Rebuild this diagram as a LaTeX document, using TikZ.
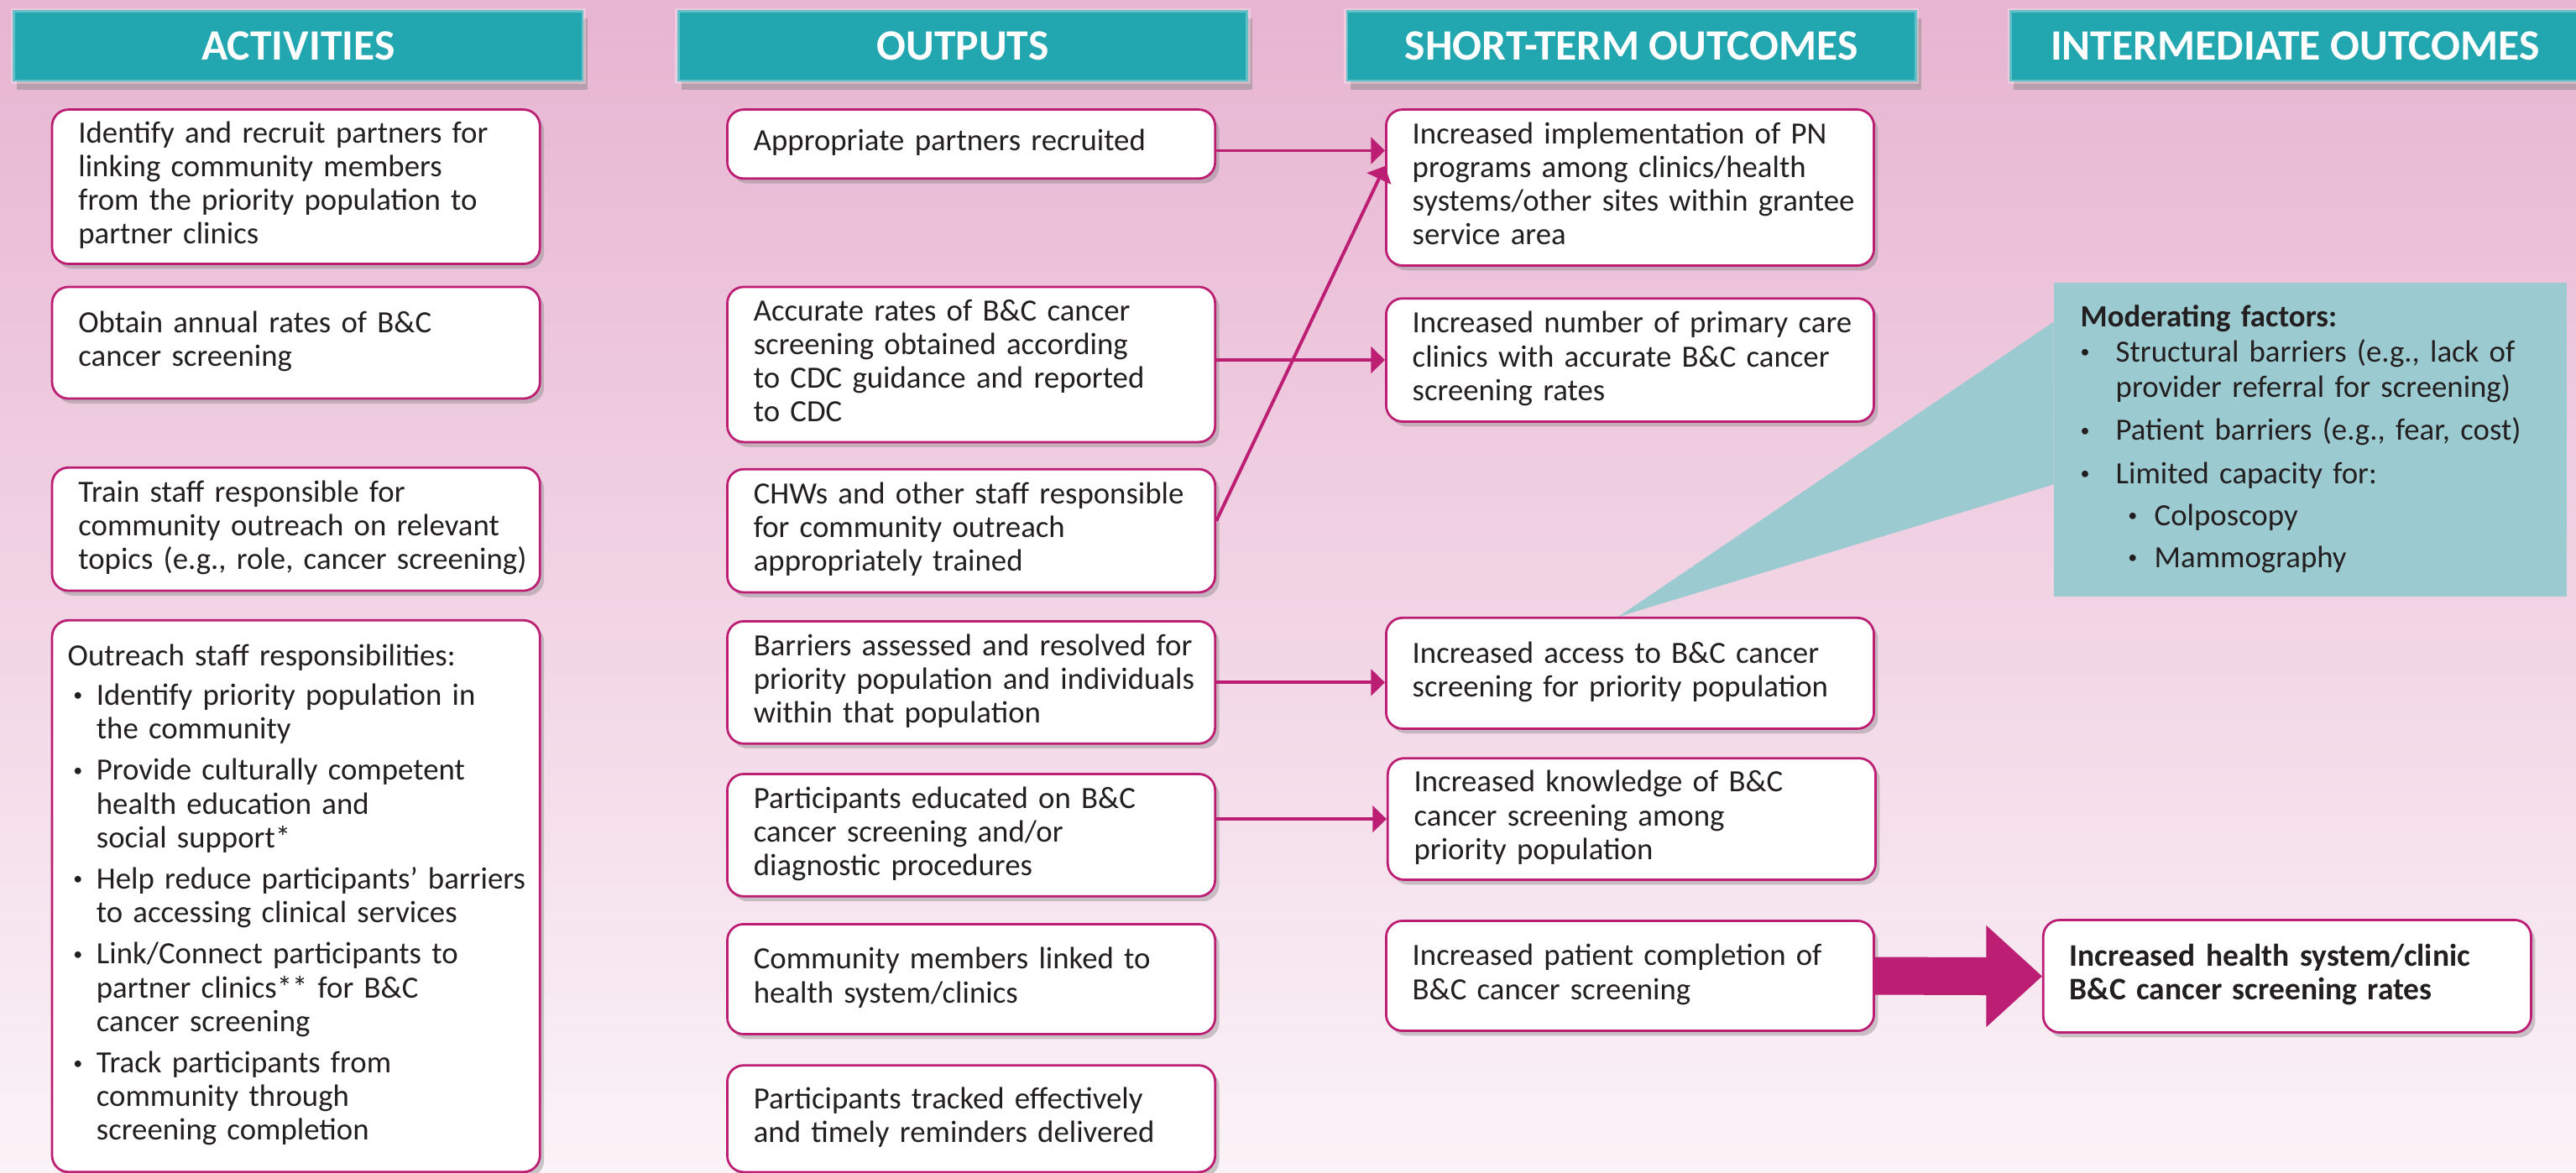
\documentclass[tikz,border=0pt]{standalone}
\usepackage{fontspec}
\setmainfont{Carlito}
\usetikzlibrary{shadows,arrows.meta,calc,backgrounds}

\definecolor{bgtop}{RGB}{231,180,209}
\definecolor{bgbot}{RGB}{251,243,247}
\definecolor{hdteal}{RGB}{34,166,175}
\definecolor{mag}{RGB}{188,30,116}
\definecolor{mfteal}{RGB}{155,203,209}
\definecolor{ink}{RGB}{35,31,32}

\newcommand\lines[1]{\begin{tabular}{@{}l@{}}#1\end{tabular}}
\newcommand\dotitem[1]{\makebox[#1][l]{\raisebox{0.12em}{\scalebox{0.6}{\textbullet}}}}

\begin{document}
\begin{tikzpicture}[x=0.02cm,y=-0.02cm,
    box/.style={draw=mag, line width=0.8pt, fill=white, rounded corners=0.2cm,
      text=ink, align=left, text width=5.3cm, inner xsep=0.32cm, inner ysep=0pt,
      minimum width=5.94cm, anchor=north west, font=\fontsize{10.7}{11.7}\selectfont,
      drop shadow={shadow xshift=0.05cm, shadow yshift=-0.06cm, opacity=0.4}},
    head/.style={fill=hdteal, draw=white, draw opacity=0.3, line width=1.5pt,
      minimum width=6.95cm, minimum height=0.87cm, anchor=north west, text=white,
      font=\fontsize{15}{18}\selectfont\bfseries,
      drop shadow={shadow xshift=0.05cm, shadow yshift=-0.1cm, opacity=0.45}},
    flow/.style={draw=mag, line width=1.15pt, -{Triangle[length=0.17cm,width=0.32cm]}}]
  \useasboundingbox (0,0) rectangle (1568,714);
  \begin{scope}[on background layer]
    \shade[top color=bgtop, bottom color=bgbot] (0,0) rectangle (1568,714);
  \end{scope}

  %% the headers
  \node[head] (hAct) at (6.5,5) {ACTIVITIES};
  \node[head] (hOut) at (411,5) {OUTPUTS};
  \node[head] (hShort) at (818,5) {SHORT-TERM OUTCOMES};
  \node[head] (hInter) at (1222,5) {INTERMEDIATE OUTCOMES};

  %% activities
  \node[box, minimum height=1.88cm] (A1) at (31,66) {\lines{Identify and recruit partners for\\linking community members\\from the priority population to\\partner clinics}};
  \node[box, minimum height=1.36cm] (A2) at (31,174) {\lines{Obtain annual rates of B\&C\\cancer screening}};
  \node[box, minimum height=1.50cm] (A3) at (31,284) {\lines{Train staff responsible for\\community outreach on relevant\\topics (e.g., role, cancer screening)}};
  \node[box, minimum height=6.72cm, inner xsep=0.19cm, text width=5.56cm] (A4) at (31,377) {%
    \begin{tabular}{@{}l@{}l@{}}
      \multicolumn{2}{@{}l@{}}{Outreach staff responsibilities:}\\[2pt]
      \hspace{0.07cm}\dotitem{0.28cm} & Identify priority population in\\
      & the community\\[2.6pt]
      \hspace{0.07cm}\dotitem{0.28cm} & Provide culturally competent\\
      & health education and\\
      & social support*\\[2.6pt]
      \hspace{0.07cm}\dotitem{0.28cm} & Help reduce participants' barriers\\
      & to accessing clinical services\\[2.6pt]
      \hspace{0.07cm}\dotitem{0.28cm} & Link/Connect participants to\\
      & partner clinics** for B\&C\\
      & cancer screening\\[2.6pt]
      \hspace{0.07cm}\dotitem{0.28cm} & Track participants from\\
      & community through\\
      & screening completion
    \end{tabular}};

  %% outputs
  \node[box, minimum height=0.84cm] (O1) at (442,66) {\lines{Appropriate partners recruited}};
  \node[box, minimum height=1.89cm] (O2) at (442,174) {\lines{Accurate rates of B\&C cancer\\screening obtained according\\to CDC guidance and reported\\to CDC}};
  \node[box, minimum height=1.50cm] (O3) at (442,285) {\lines{CHWs and other staff responsible\\for community outreach\\appropriately trained}};
  \node[box, minimum height=1.49cm] (O4) at (442,377.6) {\lines{Barriers assessed and resolved for\\priority population and individuals\\within that population}};
  \node[box, minimum height=1.49cm] (O5) at (442,470.6) {\lines{Participants educated on B\&C\\cancer screening and/or\\diagnostic procedures}};
  \node[box, minimum height=1.34cm] (O6) at (442,562) {\lines{Community members linked to\\health system/clinics}};
  \node[box, minimum height=1.30cm] (O7) at (442,648) {\lines{Participants tracked effectively\\and timely reminders delivered}};

  %% short-term outcomes
  \node[box, minimum height=1.90cm] (S1) at (843,66) {\lines{Increased implementation of PN\\programs among clinics/health\\systems/other sites within grantee\\service area}};
  \node[box, minimum height=1.50cm] (S2) at (843,181) {\lines{Increased number of primary care\\clinics with accurate B\&C cancer\\screening rates}};
  \node[box, minimum height=1.35cm] (S3) at (843,375.5) {\lines{Increased access to B\&C cancer\\screening for priority population}};
  \node[box, minimum height=1.48cm] (S4) at (844,461) {\lines{Increased knowledge of B\&C\\cancer screening among\\priority population}};
  \node[box, minimum height=1.34cm] (S5) at (843,560) {\lines{Increased patient completion of\\B\&C cancer screening}};

  %% intermediate outcome
  \node[box, minimum height=1.37cm, font=\fontsize{10.9}{11.7}\selectfont\bfseries] (I1) at (1243,559.5) {\lines{Increased health system/clinic\\B\&C cancer screening rates}};

  %% moderating factors
  \node[anchor=north west, fill=mfteal, text=ink, align=left, text width=5.6cm, inner xsep=0.32cm,
    inner ysep=0pt, minimum width=6.24cm, minimum height=3.82cm,
    font=\fontsize{10.7}{12.2}\selectfont] (MF) at (1250,172) {%
    \begin{tabular}{@{}l@{}l@{}l@{}}
      \multicolumn{3}{@{}l@{}}{\textbf{Moderating factors:}}\\
      \dotitem{0.43cm} & \multicolumn{2}{@{}l@{}}{Structural barriers (e.g., lack of}\\
      & \multicolumn{2}{@{}l@{}}{provider referral for screening)}\\[2.8pt]
      \dotitem{0.43cm} & \multicolumn{2}{@{}l@{}}{Patient barriers (e.g., fear, cost)}\\[2.8pt]
      \dotitem{0.43cm} & \multicolumn{2}{@{}l@{}}{Limited capacity for:}\\[2.3pt]
      & \hspace{0.15cm}\dotitem{0.32cm} & Colposcopy\\[2.3pt]
      & \hspace{0.15cm}\dotitem{0.32cm} & Mammography
    \end{tabular}};
  \begin{scope}[on background layer]
    \fill[mfteal] ($(S3.north)+(-7,0)$) -- ($(MF.north west)+(0,24)$) -- ($(MF.north west)+(0,123)$) -- cycle;
  \end{scope}

  %% arrows
  \draw[flow] ([yshift=-0.08cm]O1.east) -- ([yshift=-0.08cm]O1.east -| S1.west);
  \draw[flow] (O2.east |- S2.west) -- (S2.west);
  \draw[flow] ([yshift=0.12cm]O3.east) -- (S1.175);
  \draw[flow] (O4.east) -- (O4.east -| S3.west);
  \draw[flow] (O5.east |- S4.west) -- (S4.west);
  \fill[mag] ($(S5.east)+(0,-11.5)$) -- ($(I1.west)+(-34,-11.5)$) -- ($(I1.west)+(-34,-31)$) -- (I1.west)
    -- ($(I1.west)+(-34,31)$) -- ($(I1.west)+(-34,11.5)$) -- ($(S5.east)+(0,11.5)$) -- cycle;
\end{tikzpicture}
\end{document}
